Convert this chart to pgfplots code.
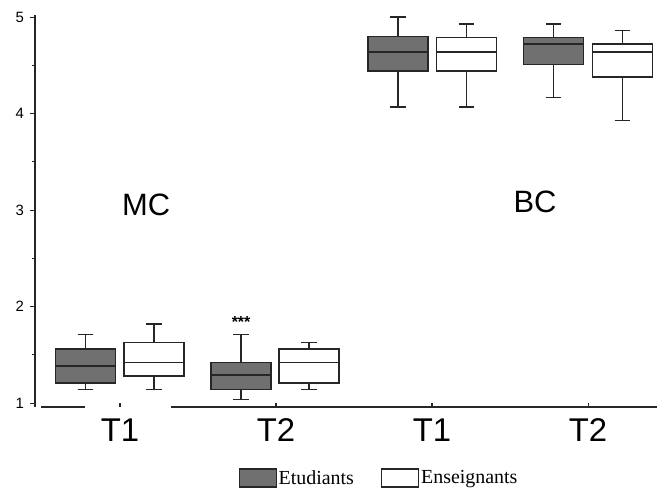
\documentclass[border=0pt]{standalone}
\usepackage{fontspec}
\setmainfont{Liberation Sans}
\newfontfamily\seriffont{Liberation Serif}
\usepackage{pgfplots}
\usepgfplotslibrary{statistics}
\pgfplotsset{compat=1.18}
\definecolor{darkbox}{RGB}{112,112,112}
\begin{document}
\begin{tikzpicture}
\path[use as bounding box] (0,0) rectangle (657bp,491bp);
\begin{axis}[
  at={(35bp,84bp)}, anchor=south west,
  scale only axis, width=622bp, height=392bp,
  xmin=0.455, xmax=4.442, ymin=0.96, ymax=5.022,
  axis x line=bottom, axis y line=left,
  axis line style={-, line width=1.2pt, black!85},
  x axis line style={dash pattern=on 0bp off 6bp on 44bp off 86bp on 1000bp off 0bp},
  xtick={1,2,3,4}, xticklabels={T1,T2,T1,T2},
  ytick={1,2,3,4,5}, minor ytick={1.5,2.5,3.5,4.5},
  xtick align=inside, ytick align=outside,
  major tick length=4.5bp, minor tick length=3bp,
  every tick/.style={black!85, line width=1.1pt},
  /pgf/number format/assume math mode=true,
  xticklabel style={font=\fontsize{33}{33}\selectfont, yshift=-8bp},
  yticklabel style={font=\fontsize{15}{15}\selectfont, xshift=-3bp},
  legend style={at={(0.553,-0.181)}, anchor=center, draw=none, fill=none,
    font=\seriffont\fontsize{20}{20}\selectfont,
    /tikz/every even column/.append style={column sep=25bp}},
  legend columns=2,
  legend image code/.code={\draw[#1] (0bp,-9bp) rectangle (37bp,9bp);},
  boxplot/draw direction=y,
  boxplot/box extend=0.385,
  boxplot/whisker extend=0.1,
]
% MC T1
\addplot[forget plot, draw=black!85, fill=darkbox, line width=1.4pt, boxplot prepared={draw position=0.779, lower whisker=1.14, lower quartile=1.21, median=1.386, upper quartile=1.56, upper whisker=1.71}] coordinates {};
\addplot[forget plot, draw=black!85, fill=white, line width=1.4pt, boxplot prepared={draw position=1.218, lower whisker=1.14, lower quartile=1.28, median=1.42, upper quartile=1.63, upper whisker=1.82}] coordinates {};
% MC T2
\addplot[forget plot, draw=black!85, fill=darkbox, line width=1.4pt, boxplot prepared={draw position=1.776, lower whisker=1.04, lower quartile=1.14, median=1.29, upper quartile=1.42, upper whisker=1.71}] coordinates {};
\addplot[forget plot, draw=black!85, fill=white, line width=1.4pt, boxplot prepared={draw position=2.212, lower whisker=1.14, lower quartile=1.21, median=1.42, upper quartile=1.56, upper whisker=1.63}] coordinates {};
% BC T1
\addplot[forget plot, draw=black!85, fill=darkbox, line width=1.4pt, boxplot prepared={draw position=2.782, lower whisker=4.07, lower quartile=4.44, median=4.64, upper quartile=4.80, upper whisker=5.00}] coordinates {};
\addplot[forget plot, draw=black!85, fill=white, line width=1.4pt, boxplot prepared={draw position=3.221, lower whisker=4.07, lower quartile=4.44, median=4.64, upper quartile=4.79, upper whisker=4.93}] coordinates {};
% BC T2
\addplot[forget plot, draw=black!85, fill=darkbox, line width=1.4pt, boxplot prepared={draw position=3.779, lower whisker=4.17, lower quartile=4.51, median=4.72, upper quartile=4.79, upper whisker=4.93}] coordinates {};
\addplot[forget plot, draw=black!85, fill=white, line width=1.4pt, boxplot prepared={draw position=4.221, lower whisker=3.93, lower quartile=4.38, median=4.64, upper quartile=4.72, upper whisker=4.86}] coordinates {};
\addlegendimage{draw=black!85, fill=darkbox, line width=1.2pt}
\addlegendentry{Etudiants}
\addlegendimage{draw=black!85, fill=white, line width=1.2pt}
\addlegendentry{Enseignants}
\node[font=\fontsize{31}{31}\selectfont] at (axis cs:1.167,3.05) {MC};
\node[font=\fontsize{31}{31}\selectfont] at (axis cs:3.66,3.09) {BC};
\node[font=\bfseries\fontsize{16}{16}\selectfont] at (axis cs:1.776,1.84) {***};
\end{axis}
\end{tikzpicture}
\end{document}
